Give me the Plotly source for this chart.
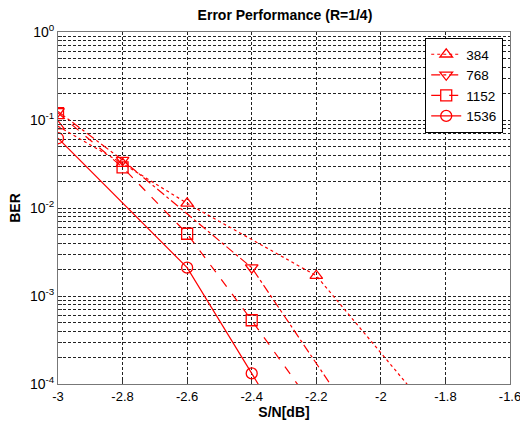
import plotly.graph_objects as go

# ---- data ----
x_384 = [-3.0, -2.8, -2.6, -2.2, -1.8]
ber_384 = [0.085, 0.032, 0.0113, 0.0017, 3.0e-5]

x_768 = [-3.0, -2.8, -2.4, -2.0]
ber_768 = [0.125, 0.035, 0.0021, 1.4e-5]

x_1152 = [-3.0, -2.8, -2.6, -2.4, -2.2]
ber_1152 = [0.120, 0.029, 0.0051, 5.3e-4, 5.0e-5]

x_1536 = [-3.0, -2.6, -2.4, -2.2]
ber_1536 = [0.062, 0.0021, 1.32e-4, 8.0e-6]

series_names = ["384", "768", "1152", "1536"]
x_ticks = [-3.0, -2.8, -2.6, -2.4, -2.2, -2.0, -1.8, -1.6]
x_ticklabels = ["-3", "-2.8", "-2.6", "-2.4", "-2.2", "-2", "-1.8", "-1.6"]
decades = [-4, -3, -2, -1, 0]

# ---- styles ----
RED = "#ff0000"
styles = [
    dict(dash="dot", symbol="triangle-up-open"),
    dict(dash="dashdot", symbol="triangle-down-open"),
    dict(dash="dash", symbol="square-open"),
    dict(dash="solid", symbol="circle-open"),
]

fig = go.Figure()
for name, xs, ys, st in zip(series_names,
                            [x_384, x_768, x_1152, x_1536],
                            [ber_384, ber_768, ber_1152, ber_1536],
                            styles):
    fig.add_trace(go.Scatter(
        x=xs, y=ys, name=name, mode="lines+markers",
        line=dict(color=RED, width=1.2, dash=st["dash"]),
        marker=dict(symbol=st["symbol"], size=11, color=RED,
                    line=dict(color=RED, width=1.3)),
        cliponaxis=True,
    ))

# y ticks: every 1..9 x 10^k, labels only on decades
y_tickvals = []
y_ticktext = []
for d in decades:
    for m in range(1, 10):
        if d == 0 and m > 1:
            break
        y_tickvals.append(m * 10.0 ** d)
        y_ticktext.append(f"10<sup>{d}</sup>" if m == 1 else "")

FONT = "Liberation Sans, Arial, sans-serif"

fig.update_layout(
    width=520, height=422,
    margin=dict(l=58, r=10, t=32, b=38, autoexpand=False),
    paper_bgcolor="white", plot_bgcolor="white",
    font=dict(family=FONT, size=13, color="black"),
    title=dict(text="<b>Error Performance (R=1/4)</b>", x=0.548, xanchor="center",
               y=0.965, yanchor="middle", font=dict(size=14, family=FONT),
               automargin=False),
    showlegend=True,
    hovermode=False,
    legend=dict(x=0.985, y=0.983, xanchor="right", yanchor="top",
                bgcolor="white", bordercolor="black", borderwidth=1,
                font=dict(size=13.5, family=FONT), tracegroupgap=0,
                itemwidth=30),
)

fig.update_xaxes(
    range=[-3.0, -1.6], tickvals=x_ticks, ticktext=x_ticklabels,
    automargin=False, ticklabeloverflow="allow",
    showgrid=True, gridcolor="#222", griddash="3px,2px", gridwidth=1,
    zeroline=False, showline=True, linecolor="#777", linewidth=1, mirror=True,
    ticks="inside", ticklen=4, tickcolor="#333",
    tickfont=dict(size=13, family=FONT),
    title=dict(text="<b>S/N[dB]</b>", font=dict(size=14, family=FONT), standoff=2),
)
fig.update_yaxes(
    type="log", range=[-4, 0], tickvals=y_tickvals, ticktext=y_ticktext,
    automargin=False, ticklabeloverflow="allow",
    showgrid=True, gridcolor="#222", griddash="3px,2px", gridwidth=1,
    zeroline=False, showline=True, linecolor="#777", linewidth=1, mirror=True,
    ticks="inside", ticklen=4, tickcolor="#333",
    tickfont=dict(size=14, family=FONT),
    title=dict(text="<b>BER</b>", font=dict(size=14, family=FONT), standoff=6),
)

fig.write_html("out.html", config={"displayModeBar": False},
               post_script="document.body.style.margin='0';")
